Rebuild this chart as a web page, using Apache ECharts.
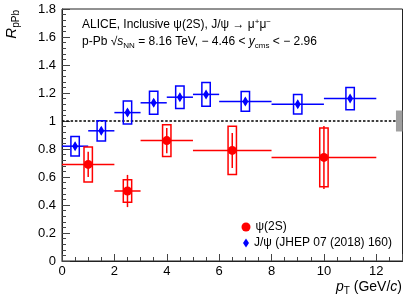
<!DOCTYPE html>
<html><head><meta charset="utf-8">
<script src="https://cdn.jsdelivr.net/npm/echarts@6/dist/echarts.min.js"></script>
<style>html,body{margin:0;padding:0;background:#fff}#c{width:415px;height:300px}</style>
</head><body><div id="c"></div>
<script>
// psi(2S) R_pPb
const psiX = [1, 2.5, 4, 6.5, 10];
const psiXLow = [0, 2, 3, 5, 8];
const psiXHigh = [2, 3, 5, 8, 12];
const psiR = [0.69, 0.50, 0.86, 0.79, 0.74];
const psiStat = [0.09, 0.115, 0.09, 0.125, 0.225];
const psiSyst = [0.125, 0.08, 0.113, 0.172, 0.21];
// J/psi R_pPb (JHEP 07 (2018) 160)
const jpsiX = [0.5, 1.5, 2.5, 3.5, 4.5, 5.5, 7, 9, 11];
const jpsiXLow = [0, 1, 2, 3, 4, 5, 6, 8, 10];
const jpsiXHigh = [1, 2, 3, 4, 5, 6, 8, 10, 12];
const jpsiR = [0.82, 0.93, 1.06, 1.13, 1.17, 1.19, 1.14, 1.12, 1.16];
const jpsiStat = [0.025, 0.025, 0.025, 0.025, 0.025, 0.025, 0.025, 0.025, 0.025];
const jpsiSyst = [0.07, 0.072, 0.082, 0.082, 0.08, 0.085, 0.07, 0.07, 0.08];
// global uncertainty and reference level
const refLevel = 1;
const globalUnc = 0.075;
const globalBoxX = [12.75, 13];
const xTickLabels = ['0', '2', '4', '6', '8', '10', '12'];
const yTickLabels = ['0', '0.2', '0.4', '0.6', '0.8', '1', '1.2', '1.4', '1.6', '1.8'];
const psiName = 'ψ(2S)';
const jpsiName = 'J/ψ (JHEP 07 (2018) 160)';

const FONT = 'Liberation Sans, Arial, Helvetica, sans-serif';
const BOX_HALF = 0.16;

function errRender(color) {
  return function (params, api) {
    const x = api.value(0), y = api.value(1), xl = api.value(2), xh = api.value(3), st = api.value(4), sy = api.value(5);
    const pL = api.coord([xl, y]), pH = api.coord([xh, y]);
    const s1 = api.coord([x, y - st]), s2 = api.coord([x, y + st]);
    const b1 = api.coord([x - BOX_HALF, y + sy]), b2 = api.coord([x + BOX_HALF, y - sy]);
    const ls = { stroke: color, lineWidth: 1.5, fill: null };
    return { type: 'group', children: [
      { type: 'line', shape: { x1: pL[0], y1: pL[1], x2: pH[0], y2: pH[1] }, style: ls },
      { type: 'line', shape: { x1: s1[0], y1: s1[1], x2: s2[0], y2: s2[1] }, style: ls },
      { type: 'rect', shape: { x: b1[0], y: b1[1], width: b2[0] - b1[0], height: b2[1] - b1[1] }, style: { stroke: color, lineWidth: 1.5, fill: 'none' } }
    ]};
  };
}

const psiData = psiX.map((x, i) => [x, psiR[i], psiXLow[i], psiXHigh[i], psiStat[i], psiSyst[i]]);
const jpsiData = jpsiX.map((x, i) => [x, jpsiR[i], jpsiXLow[i], jpsiXHigh[i], jpsiStat[i], jpsiSyst[i]]);

const chart = echarts.init(document.getElementById('c'), null, { renderer: 'canvas' });
chart.setOption({
  animation: false,
  backgroundColor: '#fff',
  grid: { left: 62, right: 12.5, top: 9, bottom: 39, show: true, borderColor: '#222', borderWidth: 1, backgroundColor: 'transparent' },
  xAxis: {
    type: 'value', min: 0, max: 13, interval: 2,
    axisLine: { show: true, lineStyle: { color: '#222', width: 1 } },
    axisTick: { show: true, inside: true, length: 7, lineStyle: { color: '#444' } },
    minorTick: { show: true, splitNumber: 4, length: 4, lineStyle: { color: '#444' } },
    splitLine: { show: false },
    axisLabel: { fontFamily: FONT, fontSize: 13, color: '#000', margin: 4,
      formatter: v => xTickLabels[Math.round(v / 2)] ?? '' }
  },
  yAxis: {
    type: 'value', min: 0, max: 1.8, interval: 0.2,
    axisLine: { show: true, lineStyle: { color: '#222', width: 1 } },
    axisTick: { show: true, inside: true, length: 8, lineStyle: { color: '#444' } },
    minorTick: { show: true, splitNumber: 5, length: 4, lineStyle: { color: '#444' } },
    splitLine: { show: false },
    axisLabel: { fontFamily: FONT, fontSize: 13, color: '#000', margin: 6,
      formatter: v => yTickLabels[Math.round(v / 0.2)] ?? '' }
  },
  legend: [
    { data: [{ name: psiName, icon: 'circle' }], orient: 'vertical', left: 236.5, top: 216, itemWidth: 9, itemHeight: 9, itemGap: 4, itemTextGap: 10.5,
      textStyle: { fontFamily: FONT, fontSize: 12, color: '#000' }, selectedMode: false },
    { data: [{ name: jpsiName, icon: 'diamond' }], orient: 'vertical', left: 238, top: 232, itemWidth: 6, itemHeight: 9, itemGap: 4, itemTextGap: 12,
      textStyle: { fontFamily: FONT, fontSize: 12, color: '#000' }, selectedMode: false }
  ],
  series: [
    { type: 'line', data: [[0, refLevel], [13, refLevel]], symbol: 'none', silent: true, z: 1,
      lineStyle: { color: '#000', width: 1.5, type: [2.5, 1.8] } },
    { type: 'custom', z: 2, silent: true, data: [[globalBoxX[0], globalBoxX[1], refLevel - globalUnc, refLevel + globalUnc]],
      encode: { x: [0, 1], y: [2, 3] },
      renderItem: (params, api) => {
        const p1 = api.coord([api.value(0), api.value(3)]), p2 = api.coord([api.value(1), api.value(2)]);
        return { type: 'rect', shape: { x: p1[0], y: p1[1], width: p2[0] - p1[0], height: p2[1] - p1[1] }, style: { fill: '#a0a0a0' } };
      } },
    { type: 'custom', z: 3, silent: true, data: jpsiData, encode: { x: 0, y: 1 }, renderItem: errRender('#0000ff') },
    { type: 'custom', z: 3, silent: true, data: psiData, encode: { x: 0, y: 1 }, renderItem: errRender('#ff0000') },
    { type: 'scatter', name: jpsiName, z: 4, data: jpsiX.map((x, i) => [x, jpsiR[i]]), symbol: 'diamond', symbolSize: [6, 10],
      itemStyle: { color: '#0000ff', opacity: 1 } },
    { type: 'scatter', name: psiName, z: 4, data: psiX.map((x, i) => [x, psiR[i]]), symbol: 'circle', symbolSize: 9,
      itemStyle: { color: '#ff0000', opacity: 1 } }
  ],
  graphic: [
    { type: 'text', x: 82, y: 25, style: {
      text: 'ALICE, Inclusive ψ(2S), J/ψ → μ{sup|+}μ{sup|−}',
      fontFamily: FONT, fontSize: 12, fill: '#000', verticalAlign: 'middle', align: 'left',
      rich: { sup: { fontFamily: FONT, fontSize: 8, padding: [0, 0, 7, 0], fill: '#000' } } } },
    { type: 'text', x: 82, y: 42, style: {
      text: 'p-Pb √{it|s}{sub|NN} = 8.16 TeV, − 4.46 < {it|y}{sub|cms} < − 2.96',
      fontFamily: FONT, fontSize: 12, fill: '#000', verticalAlign: 'middle', align: 'left',
      rich: { it: { fontFamily: FONT, fontSize: 12, fontStyle: 'italic', fill: '#000' },
              sub: { fontFamily: FONT, fontSize: 8, padding: [7, 0, 0, 0], fill: '#000' } } } },
    { type: 'text', x: 12, y: 10, rotation: Math.PI / 2, style: {
      text: '{it|R}{sub|pPb}', fontFamily: FONT, fontSize: 14, fill: '#000', align: 'right', verticalAlign: 'middle',
      rich: { it: { fontFamily: FONT, fontSize: 15, fontStyle: 'italic', fill: '#000' },
              sub: { fontFamily: FONT, fontSize: 10, padding: [9, 0, 0, 0], fill: '#000' } } } },
    { type: 'text', x: 402, y: 287, style: {
      text: '{it|p}{sub|T} (GeV/{it|c})', fontFamily: FONT, fontSize: 14, fill: '#000', align: 'right', verticalAlign: 'middle',
      rich: { it: { fontFamily: FONT, fontSize: 14, fontStyle: 'italic', fill: '#000' },
              sub: { fontFamily: FONT, fontSize: 10, padding: [9, 0, 0, 0], fill: '#000' } } } }
  ]
});
</script></body></html>
